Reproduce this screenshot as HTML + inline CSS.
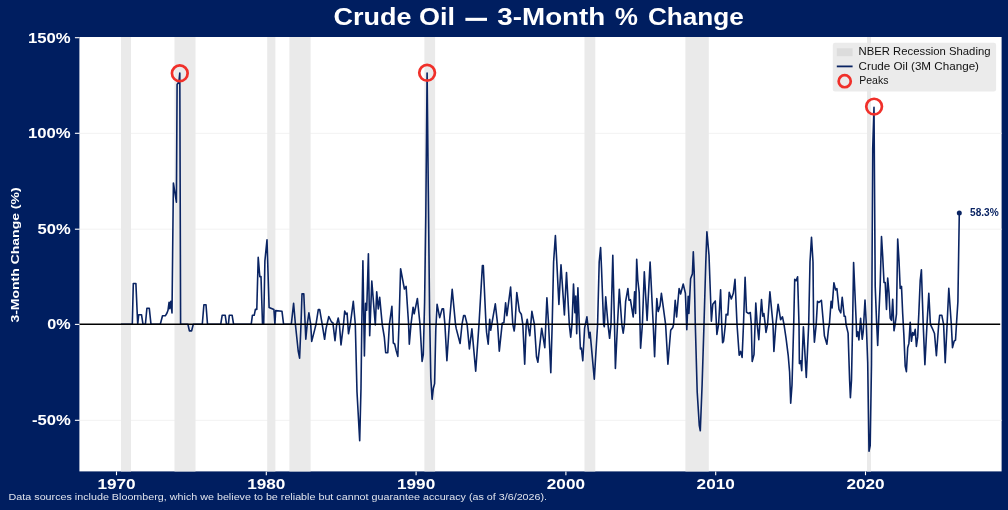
<!DOCTYPE html><html><head><meta charset="utf-8"><title>Crude Oil</title>
<style>html,body{margin:0;padding:0;background:#001E60;}svg{display:block;will-change:transform;}text{font-family:"Liberation Sans",sans-serif;}</style></head><body>
<svg width="1008" height="510" viewBox="0 0 1008 510">
<rect x="0" y="0" width="1008" height="510" fill="#001E60"/>
<rect x="79.4" y="37.0" width="922.2" height="434.4" fill="#ffffff"/>
<line x1="79.4" x2="1001.6" y1="133.3" y2="133.3" stroke="#f2f2f2" stroke-width="1"/>
<line x1="79.4" x2="1001.6" y1="229.2" y2="229.2" stroke="#f2f2f2" stroke-width="1"/>
<line x1="79.4" x2="1001.6" y1="420.3" y2="420.3" stroke="#f2f2f2" stroke-width="1"/>
<rect x="121.0" y="37.0" width="10.0" height="434.4" fill="#eaeaea"/>
<rect x="174.5" y="37.0" width="21.0" height="434.4" fill="#eaeaea"/>
<rect x="267.2" y="37.0" width="8.2" height="434.4" fill="#eaeaea"/>
<rect x="289.4" y="37.0" width="21.2" height="434.4" fill="#eaeaea"/>
<rect x="424.4" y="37.0" width="10.7" height="434.4" fill="#eaeaea"/>
<rect x="584.5" y="37.0" width="10.8" height="434.4" fill="#eaeaea"/>
<rect x="685.4" y="37.0" width="23.4" height="434.4" fill="#eaeaea"/>
<rect x="867.0" y="37.0" width="4.0" height="434.4" fill="#eaeaea"/>
<path d="M121.0 324.3 L132.3 324.3 L133.3 283.5 L135.9 283.5 L137.7 324.3 L138.7 314.7 L141.5 314.7 L143.0 324.3 L145.4 324.3 L146.9 308.3 L149.3 308.3 L151.0 324.3 L160.3 324.3 L162.5 315.8 L165.3 315.8 L167.0 313.0 L168.0 310.3 L169.1 302.2 L169.8 308.7 L170.9 301.2 L172.0 313.0 L173.4 183.0 L176.4 202.2 L177.1 84.5 L178.9 81.8 L179.8 73.0 L180.6 324.3 L187.9 324.3 L189.4 330.9 L191.6 330.9 L193.3 324.3 L202.3 324.3 L203.9 304.8 L206.0 304.8 L207.5 324.3 L220.7 324.3 L222.2 315.2 L225.2 315.2 L226.5 324.3 L228.4 324.3 L229.3 315.2 L232.1 315.2 L233.6 324.3 L251.2 324.3 L252.4 315.3 L254.2 315.3 L255.4 309.4 L256.8 309.4 L258.2 257.4 L259.8 276.6 L261.0 276.6 L262.5 324.3 L263.7 324.3 L264.9 260.8 L267.0 239.8 L269.1 307.4 L273.9 309.5 L274.9 324.3 L275.7 310.6 L282.0 311.3 L283.6 324.3 L291.1 324.3 L291.3 324.3 L293.6 303.3 L295.4 324.3 L298.2 351.0 L299.6 358.1 L301.0 324.3 L302.0 293.9 L303.8 293.9 L305.8 339.3 L307.2 324.3 L308.9 312.8 L310.7 324.3 L311.7 341.4 L314.9 328.9 L316.0 324.3 L318.3 309.6 L319.7 309.6 L322.2 324.3 L324.6 339.3 L326.0 328.9 L327.0 324.3 L328.8 316.5 L331.5 322.0 L332.9 322.8 L335.0 340.7 L336.7 324.3 L338.2 318.0 L339.4 324.3 L341.0 344.9 L343.5 324.3 L344.7 311.0 L346.1 314.2 L347.1 313.1 L348.5 333.8 L350.3 324.3 L353.3 301.3 L355.3 324.3 L357.0 392.0 L359.7 440.7 L361.0 388.0 L361.8 324.3 L362.9 260.8 L364.4 356.0 L365.6 303.3 L366.7 310.3 L368.4 253.8 L369.7 335.8 L371.8 281.1 L375.3 325.0 L376.7 291.9 L378.3 308.9 L379.7 297.4 L382.2 324.3 L384.3 337.0 L385.7 352.8 L387.8 352.8 L389.4 324.3 L391.9 306.4 L393.3 343.0 L394.7 344.0 L396.1 350.4 L397.8 356.4 L399.0 324.3 L400.6 268.7 L404.4 289.0 L406.1 286.4 L408.6 324.3 L409.3 344.2 L411.0 324.3 L413.1 307.2 L414.2 313.8 L417.4 298.5 L420.0 324.3 L422.1 361.4 L423.3 354.5 L424.6 302.1 L425.8 215.3 L427.1 73.1 L428.3 190.5 L429.6 313.6 L430.8 377.8 L432.1 399.3 L433.3 388.5 L434.6 383.6 L435.8 329.5 L437.1 304.4 L439.7 317.6 L442.1 308.9 L443.5 308.9 L444.9 324.3 L446.9 360.8 L449.3 324.3 L452.2 289.4 L455.5 324.3 L456.3 328.9 L460.1 343.5 L462.0 324.3 L463.6 315.6 L465.0 315.6 L467.1 324.3 L469.4 349.0 L471.9 328.9 L475.7 371.3 L479.0 324.3 L482.4 265.6 L483.3 265.6 L486.0 324.3 L486.6 332.4 L488.2 344.2 L489.7 319.2 L490.7 330.3 L495.3 303.8 L497.6 324.3 L499.3 351.1 L502.2 323.3 L503.9 322.6 L505.6 302.8 L506.9 315.6 L510.6 287.1 L512.8 324.3 L514.2 331.0 L515.0 324.3 L516.8 292.6 L519.4 311.4 L521.3 314.2 L522.8 324.3 L524.7 364.3 L526.2 324.3 L527.2 319.2 L528.6 328.9 L529.8 335.8 L531.9 311.4 L534.4 324.3 L536.5 356.7 L537.9 362.2 L541.7 328.2 L543.5 339.3 L544.8 347.6 L546.9 297.8 L548.6 324.3 L550.8 372.8 L552.2 324.3 L553.6 262.0 L555.4 235.6 L556.8 262.0 L558.9 304.4 L561.0 264.8 L564.4 314.9 L566.5 272.6 L569.3 324.3 L570.7 337.2 L572.0 324.3 L573.5 284.0 L574.9 312.8 L575.8 296.1 L576.7 333.8 L577.9 287.8 L579.3 324.3 L580.4 349.0 L581.4 348.0 L582.8 360.8 L584.6 328.2 L586.9 316.8 L589.2 337.9 L590.1 332.4 L594.3 379.2 L597.6 324.3 L599.2 262.0 L600.6 247.6 L601.5 268.0 L603.6 324.3 L604.3 326.8 L605.7 296.8 L608.0 324.3 L609.6 338.3 L611.0 324.3 L612.8 255.3 L614.5 324.3 L615.4 368.5 L617.5 324.3 L619.3 289.4 L621.8 324.3 L623.2 333.1 L624.4 324.3 L625.6 301.7 L627.9 288.5 L629.0 300.3 L630.4 299.6 L633.2 316.9 L634.6 291.9 L635.6 313.5 L636.7 259.2 L637.8 280.0 L639.2 292.6 L640.6 348.3 L642.4 324.3 L644.3 271.7 L647.1 320.5 L650.1 262.0 L653.2 324.3 L654.6 356.7 L655.8 324.3 L656.8 298.6 L658.2 311.4 L660.0 305.8 L661.4 293.3 L665.6 324.3 L667.9 364.3 L670.7 330.3 L672.8 327.5 L673.6 324.3 L675.2 300.3 L676.6 316.9 L679.1 288.5 L680.6 294.0 L683.2 284.0 L685.4 293.3 L686.8 329.6 L688.2 296.4 L688.9 313.5 L690.6 278.8 L692.4 273.9 L693.3 251.8 L694.2 272.0 L695.3 324.3 L697.2 392.0 L699.3 425.6 L700.3 430.8 L702.1 385.0 L704.0 324.3 L705.8 262.0 L706.9 231.7 L709.0 255.3 L711.4 321.1 L712.8 304.2 L715.3 301.0 L716.9 334.4 L718.6 324.3 L720.6 289.9 L721.7 324.3 L722.6 342.8 L723.6 341.0 L725.4 324.3 L726.1 314.2 L727.8 314.9 L729.2 292.2 L731.3 298.9 L733.3 293.3 L735.0 279.3 L737.0 324.3 L739.2 355.3 L740.6 351.4 L742.1 357.4 L743.5 324.3 L745.1 277.3 L746.5 312.1 L748.6 313.5 L750.3 312.5 L751.3 324.3 L752.2 361.5 L754.0 354.6 L755.8 303.1 L757.2 324.3 L758.8 339.7 L759.8 324.3 L761.5 299.6 L762.8 316.3 L763.9 313.5 L765.2 324.3 L766.0 332.4 L767.6 324.3 L769.9 291.9 L773.0 324.3 L773.9 351.4 L775.9 324.3 L778.1 304.2 L780.6 319.7 L782.5 316.8 L784.0 324.3 L786.1 338.6 L788.2 355.3 L789.6 372.0 L790.7 403.3 L792.0 385.0 L793.7 324.3 L794.7 279.4 L796.1 280.8 L797.6 276.8 L799.0 324.3 L799.4 363.6 L800.7 360.8 L801.7 370.6 L803.4 326.8 L806.3 377.5 L808.7 324.3 L810.0 262.0 L811.5 237.2 L813.0 262.0 L813.6 324.3 L814.4 342.1 L816.2 324.3 L817.5 301.4 L818.9 302.4 L821.4 300.3 L823.5 324.3 L824.4 335.8 L826.9 344.2 L828.6 328.0 L829.4 324.3 L831.1 301.4 L832.1 307.9 L833.9 282.8 L835.6 289.9 L836.9 288.5 L839.0 309.3 L840.8 312.8 L842.2 297.2 L844.2 316.3 L845.3 316.3 L846.0 324.3 L848.1 333.1 L849.6 380.0 L850.4 397.8 L851.5 380.0 L852.6 324.3 L853.6 262.5 L856.3 324.3 L856.7 336.5 L857.8 331.7 L858.9 340.0 L860.6 318.4 L862.2 339.3 L863.2 332.0 L865.0 300.0 L866.3 324.3 L867.7 362.5 L869.0 451.3 L870.2 445.7 L871.5 363.9 L872.7 149.0 L874.0 107.3 L875.2 286.1 L876.5 319.7 L877.7 345.5 L879.0 312.1 L880.2 284.9 L881.5 236.5 L882.7 256.2 L884.0 282.4 L885.2 282.6 L886.5 309.4 L887.7 278.0 L889.0 293.1 L890.2 318.0 L891.5 320.3 L892.7 299.4 L894.0 330.8 L895.2 323.9 L896.5 313.8 L897.7 239.0 L899.0 260.6 L900.2 288.4 L901.5 286.4 L902.7 313.8 L903.9 335.4 L905.2 366.2 L906.4 371.7 L907.7 347.8 L908.9 343.4 L910.2 322.4 L911.4 341.3 L912.7 332.5 L913.9 335.2 L915.2 329.3 L916.4 346.5 L917.7 336.9 L918.9 311.9 L920.2 280.7 L921.4 269.8 L923.2 324.3 L924.9 364.6 L927.0 324.3 L928.8 293.2 L930.4 324.3 L932.3 328.3 L934.5 333.5 L936.4 355.8 L938.7 324.3 L939.7 315.2 L941.8 315.2 L943.6 324.3 L945.2 362.6 L947.1 324.3 L948.8 288.3 L951.3 324.3 L952.5 347.6 L954.1 341.2 L955.5 340.1 L956.8 318.9 L957.9 301.7 L959.3 213.0" fill="none" stroke="#0a2463" stroke-width="1.6" stroke-linejoin="round" stroke-linecap="butt"/>
<line x1="79.4" x2="1000.2" y1="324.3" y2="324.3" stroke="#000" stroke-width="1.6"/>
<circle cx="179.8" cy="73.3" r="7.85" fill="none" stroke="#f0302a" stroke-width="2.7"/>
<circle cx="427.1" cy="72.8" r="7.85" fill="none" stroke="#f0302a" stroke-width="2.7"/>
<circle cx="874.1" cy="106.6" r="7.85" fill="none" stroke="#f0302a" stroke-width="2.7"/>
<circle cx="959.3" cy="213" r="2.5" fill="#0a2463"/>
<text x="970.0" y="215.6" font-size="10.4" font-weight="bold" fill="#0a2463" textLength="28.7" lengthAdjust="spacingAndGlyphs">58.3%</text>
<line x1="74.9" x2="79.4" y1="37.7" y2="37.7" stroke="#fff" stroke-width="1.1"/>
<text x="70.7" y="42.5" font-size="14.0" font-weight="bold" fill="#fff" text-anchor="end" textLength="42.7" lengthAdjust="spacingAndGlyphs">150%</text>
<line x1="74.9" x2="79.4" y1="133.3" y2="133.3" stroke="#fff" stroke-width="1.1"/>
<text x="70.7" y="138.1" font-size="14.0" font-weight="bold" fill="#fff" text-anchor="end" textLength="42.7" lengthAdjust="spacingAndGlyphs">100%</text>
<line x1="74.9" x2="79.4" y1="229.2" y2="229.2" stroke="#fff" stroke-width="1.1"/>
<text x="70.7" y="234.0" font-size="14.0" font-weight="bold" fill="#fff" text-anchor="end" textLength="33.1" lengthAdjust="spacingAndGlyphs">50%</text>
<line x1="74.9" x2="79.4" y1="324.4" y2="324.4" stroke="#fff" stroke-width="1.1"/>
<text x="70.7" y="329.2" font-size="14.0" font-weight="bold" fill="#fff" text-anchor="end" textLength="23.4" lengthAdjust="spacingAndGlyphs">0%</text>
<line x1="74.9" x2="79.4" y1="420.3" y2="420.3" stroke="#fff" stroke-width="1.1"/>
<text x="70.7" y="425.1" font-size="14.0" font-weight="bold" fill="#fff" text-anchor="end" textLength="38.8" lengthAdjust="spacingAndGlyphs">-50%</text>
<line x1="116.5" x2="116.5" y1="471.4" y2="475.2" stroke="#fff" stroke-width="1.1"/>
<text x="116.5" y="488.9" font-size="14.0" font-weight="bold" fill="#fff" text-anchor="middle" textLength="38.2" lengthAdjust="spacingAndGlyphs">1970</text>
<line x1="266.3" x2="266.3" y1="471.4" y2="475.2" stroke="#fff" stroke-width="1.1"/>
<text x="266.3" y="488.9" font-size="14.0" font-weight="bold" fill="#fff" text-anchor="middle" textLength="38.2" lengthAdjust="spacingAndGlyphs">1980</text>
<line x1="416.1" x2="416.1" y1="471.4" y2="475.2" stroke="#fff" stroke-width="1.1"/>
<text x="416.1" y="488.9" font-size="14.0" font-weight="bold" fill="#fff" text-anchor="middle" textLength="38.2" lengthAdjust="spacingAndGlyphs">1990</text>
<line x1="565.9" x2="565.9" y1="471.4" y2="475.2" stroke="#fff" stroke-width="1.1"/>
<text x="565.9" y="488.9" font-size="14.0" font-weight="bold" fill="#fff" text-anchor="middle" textLength="38.2" lengthAdjust="spacingAndGlyphs">2000</text>
<line x1="715.7" x2="715.7" y1="471.4" y2="475.2" stroke="#fff" stroke-width="1.1"/>
<text x="715.7" y="488.9" font-size="14.0" font-weight="bold" fill="#fff" text-anchor="middle" textLength="38.2" lengthAdjust="spacingAndGlyphs">2010</text>
<line x1="865.5" x2="865.5" y1="471.4" y2="475.2" stroke="#fff" stroke-width="1.1"/>
<text x="865.5" y="488.9" font-size="14.0" font-weight="bold" fill="#fff" text-anchor="middle" textLength="38.2" lengthAdjust="spacingAndGlyphs">2020</text>
<text transform="translate(19.2,255) rotate(-90)" font-size="11.2" font-weight="bold" fill="#fff" text-anchor="middle" textLength="135.2" lengthAdjust="spacingAndGlyphs">3-Month Change (%)</text>
<text x="333.5" y="25.4" font-size="24.0" font-weight="bold" fill="#fff" textLength="121.4" lengthAdjust="spacingAndGlyphs">Crude Oil</text>
<text x="497.3" y="25.4" font-size="24.0" font-weight="bold" fill="#fff" textLength="108.0" lengthAdjust="spacingAndGlyphs">3-Month</text>
<text x="615.1" y="25.4" font-size="24.0" font-weight="bold" fill="#fff" textLength="22.9" lengthAdjust="spacingAndGlyphs">%</text>
<text x="647.9" y="25.4" font-size="24.0" font-weight="bold" fill="#fff" textLength="96.0" lengthAdjust="spacingAndGlyphs">Change</text>
<rect x="465.4" y="17.8" width="21.6" height="3.1" fill="#fff"/>
<text x="8.6" y="499.7" font-size="8.3" fill="#dfe3ec" textLength="538.5" lengthAdjust="spacingAndGlyphs">Data sources include Bloomberg, which we believe to be reliable but cannot guarantee accuracy (as of 3/6/2026).</text>
<rect x="832.8" y="42.8" width="163.3" height="48.7" rx="2.2" ry="2.2" fill="#e8e8e8" fill-opacity="0.85"/>
<rect x="836.8" y="48.3" width="15.8" height="7.9" fill="#dcdcdc"/>
<line x1="836.8" x2="852.6" y1="66.4" y2="66.4" stroke="#0a2463" stroke-width="1.8"/>
<circle cx="844.7" cy="81.2" r="6.05" fill="none" stroke="#f0302a" stroke-width="2.7"/>
<text x="858.6" y="55.4" font-size="11.5" fill="#111" textLength="131.9" lengthAdjust="spacingAndGlyphs">NBER Recession Shading</text>
<text x="858.6" y="69.8" font-size="11.5" fill="#111" textLength="120.4" lengthAdjust="spacingAndGlyphs">Crude Oil (3M Change)</text>
<text x="859.2" y="84.2" font-size="11.5" fill="#111" textLength="29.2" lengthAdjust="spacingAndGlyphs">Peaks</text>
</svg></body></html>
